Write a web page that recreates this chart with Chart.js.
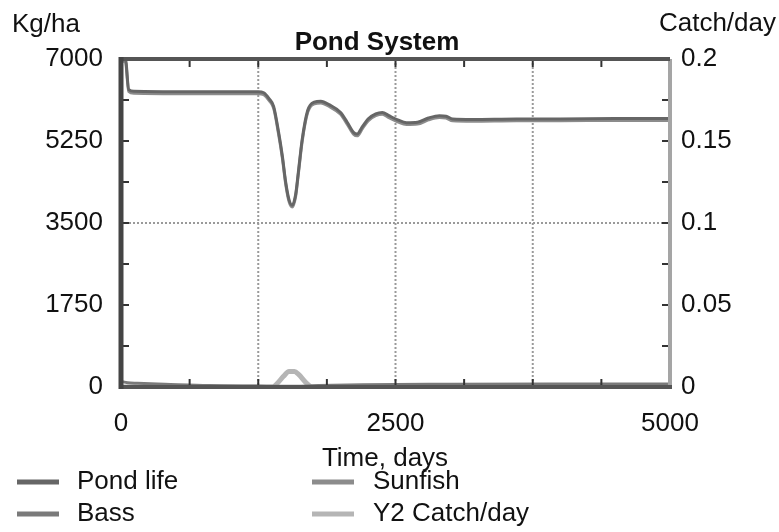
<html>
  <head>
    <script src="https://cdn.jsdelivr.net/npm/chart.js@4.4.0/dist/chart.umd.min.js"></script>
  </head>
  <body>
    <canvas id="graph" width="779" height="532"></canvas>
    <style>
      body{
        margin: 0;
        background-color: #fff;
      }
    </style>
    <script>
      // time axis (days) for the two big curves
      var days     = [0, 40, 70, 120, 600, 1000, 1250, 1300, 1350, 1390, 1435, 1470, 1500, 1530, 1560, 1590, 1615, 1650, 1700, 1760, 1820, 1900, 2000, 2060, 2120, 2150, 2200, 2250, 2320, 2380, 2440, 2520, 2600, 2700, 2800, 2900, 2960, 3020, 3200, 3600, 4000, 4500, 5000];
      var pondLife = [7000, 7000, 6350, 6310, 6300, 6300, 6300, 6280, 6150, 5990, 5440, 4920, 4370, 4000, 3880, 4100, 4580, 5280, 5900, 6080, 6100, 6020, 5860, 5650, 5430, 5400, 5560, 5720, 5830, 5860, 5790, 5700, 5640, 5650, 5740, 5790, 5780, 5720, 5710, 5720, 5720, 5730, 5730];
      var sunfish  = [6950, 6950, 6310, 6270, 6260, 6260, 6260, 6240, 6110, 5950, 5400, 4880, 4330, 3960, 3840, 4060, 4540, 5240, 5860, 6040, 6060, 5980, 5820, 5610, 5390, 5360, 5520, 5680, 5790, 5820, 5750, 5660, 5600, 5610, 5700, 5750, 5740, 5680, 5670, 5680, 5680, 5690, 5690];
      var bassDays = [0, 60, 150, 400, 800, 1250, 1500, 1800, 2200, 3000, 4000, 5000];
      var bass     = [120, 90, 80, 60, 30, 20, 15, 30, 50, 60, 65, 65];
      var catchDays   = [0, 1380, 1420, 1480, 1530, 1580, 1620, 1680, 1740, 5000];
      var catchPerDay = [0, 0, 0.002, 0.0065, 0.0095, 0.0095, 0.0075, 0.003, 0, 0];

      var xLabels = [0, 2500, 5000];
      var leftLabels = [0, 1750, 3500, 5250, 7000];
      var rightLabels = [0, 0.05, 0.1, 0.15, 0.2];
      var xGrid = [1250, 2500, 3750];
      var yGrid = [3500];

      function pts(xs, ys){
        return xs.map(function(x, i){ return {x: x, y: ys[i]}; });
      }
      function isLabel(list, v){
        return list.some(function(l){ return Math.abs(l - v) < 1e-9; });
      }

      var FONT = '"Liberation Sans", Arial, sans-serif';

      var framePlugin = {
        id: 'frame',
        beforeDatasetsDraw: function(chart){
          var ctx = chart.ctx, a = chart.chartArea;
          var sx = chart.scales.x, sy = chart.scales.y;
          ctx.save();
          ctx.strokeStyle = '#9a9a9a';
          ctx.lineWidth = 2;
          ctx.setLineDash([2, 2]);
          xGrid.forEach(function(v){
            var px = sx.getPixelForValue(v);
            ctx.beginPath(); ctx.moveTo(px, a.top); ctx.lineTo(px, a.bottom); ctx.stroke();
          });
          yGrid.forEach(function(v){
            var py = sy.getPixelForValue(v);
            ctx.beginPath(); ctx.moveTo(a.left, py); ctx.lineTo(a.right, py); ctx.stroke();
          });
          ctx.restore();
        },
        afterDatasetsDraw: function(chart){
          var ctx = chart.ctx, a = chart.chartArea;
          var sx = chart.scales.x, sy = chart.scales.y, sy2 = chart.scales.y2;
          ctx.save();
          // inner tick marks
          ctx.strokeStyle = '#333';
          ctx.lineWidth = 2;
          sx.ticks.forEach(function(t){
            var px = sx.getPixelForValue(t.value);
            ctx.beginPath(); ctx.moveTo(px, a.top); ctx.lineTo(px, a.top + 8); ctx.stroke();
            ctx.beginPath(); ctx.moveTo(px, a.bottom); ctx.lineTo(px, a.bottom - 8); ctx.stroke();
          });
          sy.ticks.forEach(function(t){
            var py = sy.getPixelForValue(t.value);
            ctx.beginPath(); ctx.moveTo(a.left, py); ctx.lineTo(a.left + 8, py); ctx.stroke();
          });
          sy2.ticks.forEach(function(t){
            var py = sy2.getPixelForValue(t.value);
            ctx.beginPath(); ctx.moveTo(a.right, py); ctx.lineTo(a.right - 8, py); ctx.stroke();
          });
          // frame
          ctx.lineWidth = 4;
          ctx.strokeStyle = '#a5a5a5';
          ctx.beginPath(); ctx.moveTo(a.right, a.top); ctx.lineTo(a.right, a.bottom); ctx.stroke();
          ctx.strokeStyle = '#555';
          ctx.beginPath(); ctx.moveTo(a.left - 2, a.top); ctx.lineTo(a.right, a.top); ctx.stroke();
          ctx.beginPath(); ctx.moveTo(a.left - 2, a.bottom); ctx.lineTo(a.right + 2, a.bottom); ctx.stroke();
          ctx.lineWidth = 5;
          ctx.strokeStyle = '#444';
          ctx.beginPath(); ctx.moveTo(a.left, a.top - 2); ctx.lineTo(a.left, a.bottom + 2); ctx.stroke();
          ctx.restore();
        },
        afterDraw: function(chart){
          var ctx = chart.ctx;
          ctx.save();
          ctx.fillStyle = '#111';
          ctx.textBaseline = 'alphabetic';
          ctx.font = '26px ' + FONT;
          ctx.textAlign = 'left';
          ctx.fillText('Kg/ha', 12, 32);
          ctx.textAlign = 'right';
          ctx.fillText('Catch/day', 776, 31);
          ctx.textAlign = 'center';
          ctx.fillText('Time, days', 385, 466);
          ctx.font = 'bold 26px ' + FONT;
          ctx.fillText('Pond System', 377, 50);
          // legend, two columns
          var cols = [17, 312], textX = [77, 373], rows = [489, 521];
          ctx.font = '26px ' + FONT;
          ctx.textAlign = 'left';
          chart.data.datasets.forEach(function(ds, i){
            var c = i % 2, r = Math.floor(i / 2);
            ctx.strokeStyle = ds.borderColor;
            ctx.lineWidth = 5;
            ctx.beginPath();
            ctx.moveTo(cols[c], rows[r] - 7);
            ctx.lineTo(cols[c] + 42, rows[r] - 7);
            ctx.stroke();
            ctx.fillStyle = '#111';
            ctx.fillText(ds.label, textX[c], rows[r]);
          });
          ctx.restore();
        }
      };

      var chartConfig = {
        type: 'line',
        data: {
          datasets: [
            {label: 'Pond life', data: pts(days, pondLife), borderColor: '#666', borderWidth: 3, yAxisID: 'y'},
            {label: 'Sunfish', data: pts(days, sunfish), borderColor: '#8c8c8c', borderWidth: 3, yAxisID: 'y'},
            {label: 'Bass', data: pts(bassDays, bass), borderColor: '#7a7a7a', borderWidth: 3, yAxisID: 'y'},
            {label: 'Y2 Catch/day', data: pts(catchDays, catchPerDay), borderColor: '#b5b5b5', borderWidth: 5, yAxisID: 'y2'}
          ]
        },
        options: {
          responsive: false,
          animation: false,
          devicePixelRatio: 1,
          elements: { point: { radius: 0 }, line: { cubicInterpolationMode: 'monotone' } },
          layout: { padding: { top: 59, left: 0, right: 0, bottom: 0 } },
          plugins: {
            legend: { display: false },
            tooltip: { enabled: false }
          },
          scales: {
            x: {
              type: 'linear',
              min: 0,
              max: 5000,
              grid: { display: false },
              border: { display: false },
              afterFit: function(s){ s.height = 145; },
              ticks: {
                stepSize: 625,
                autoSkip: false,
                maxRotation: 0,
                padding: 13,
                color: '#111',
                font: { family: FONT, size: 26 },
                callback: function(v){ return isLabel(xLabels, v) ? String(v) : ''; }
              }
            },
            y: {
              position: 'left',
              min: 0,
              max: 7000,
              grid: { display: false },
              border: { display: false },
              afterFit: function(s){ s.width = 121; },
              ticks: {
                stepSize: 875,
                autoSkip: false,
                padding: 10,
                color: '#111',
                font: { family: FONT, size: 26 },
                callback: function(v){ return isLabel(leftLabels, v) ? String(v) : ''; }
              }
            },
            y2: {
              position: 'right',
              min: 0,
              max: 0.2,
              grid: { display: false },
              border: { display: false },
              afterFit: function(s){ s.width = 109; },
              ticks: {
                stepSize: 0.025,
                autoSkip: false,
                padding: 3,
                color: '#111',
                font: { family: FONT, size: 26 },
                callback: function(v){ return isLabel(rightLabels, v) ? String(Number(v.toFixed(3))) : ''; }
              }
            }
          }
        },
        plugins: [framePlugin]
      };

      var graph = new Chart(document.getElementById('graph'), chartConfig);
    </script>
  </body>
</html>
